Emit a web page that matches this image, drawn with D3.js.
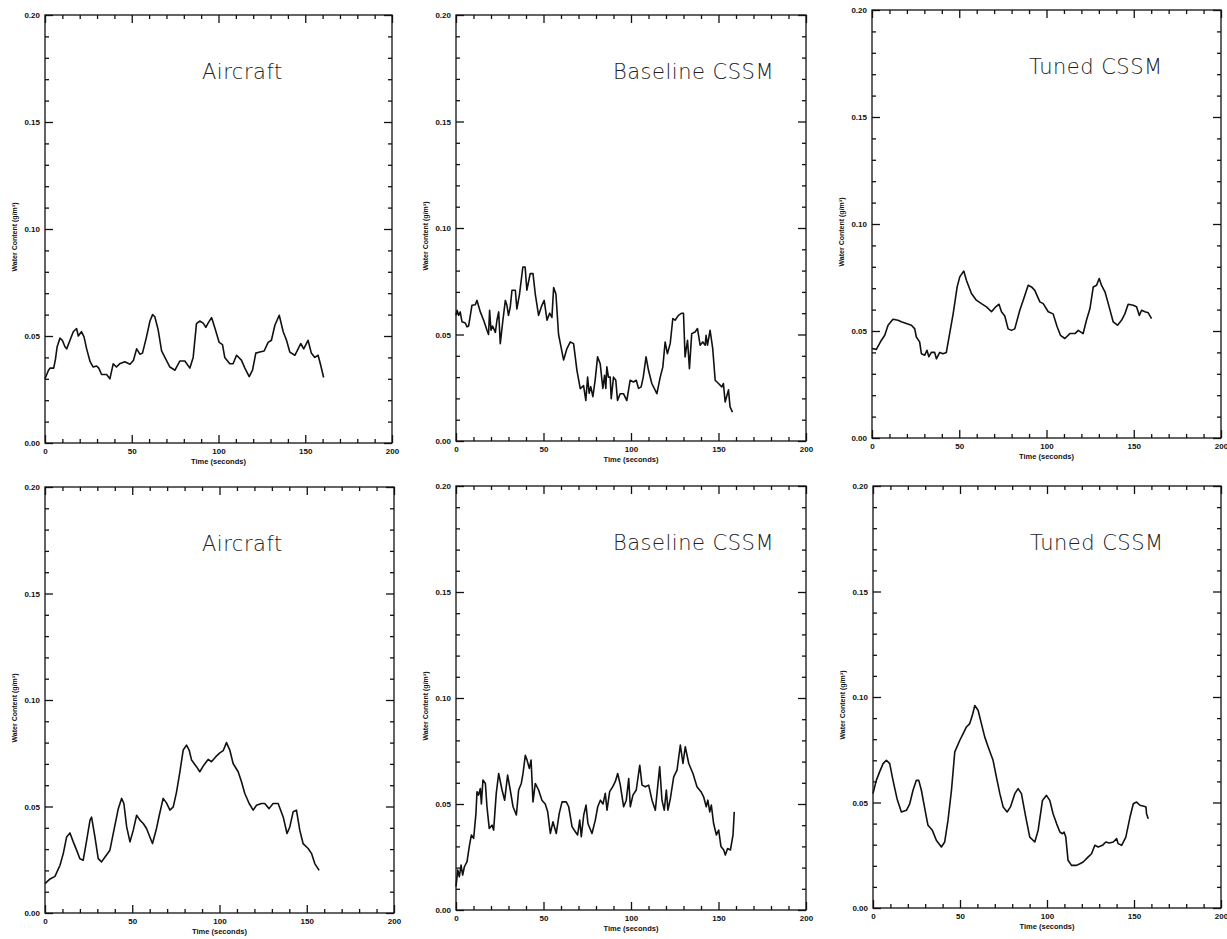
<!DOCTYPE html>
<html>
<head>
<meta charset="utf-8">
<script src="https://cdn.jsdelivr.net/npm/d3@7"></script>
<style>
body { margin: 0; background: #fff; }
.tick text { font-family: "Liberation Sans", Arial, sans-serif; font-weight: bold; font-size: 8px; fill: #111; }
.tick line { stroke: #111; stroke-width: 1.3; }
</style>
</head>
<body>
<svg></svg>
<script>

var screen = {width: 1227, height: 939};

// panel titles
var titles = ["Aircraft", "Baseline CSSM", "Tuned CSSM", "Aircraft", "Baseline CSSM", "Tuned CSSM"];

var yTicks = [0.00, 0.05, 0.10, 0.15, 0.20];
var xTicks = [0, 50, 100, 150, 200];

// [time (s), water content (g/m3)]
var aircraftTop = [
[0,0.030],[2,0.034],[3,0.035],[5,0.035],[6,0.039],[7,0.045],[8.6,0.049],[10,0.048],[11.5,0.045],[12.5,0.044],
[14.4,0.048],[16.3,0.052],[18.2,0.0535],[19.2,0.050],[21,0.052],[22.5,0.0496],[24,0.044],[26,0.038],[27.8,0.0355],
[29.7,0.036],[31,0.035],[32.6,0.032],[35.5,0.032],[37.4,0.030],[39.3,0.037],[41.2,0.0355],[43,0.037],[46,0.038],
[49,0.0368],[51,0.0387],[52.8,0.044],[54.7,0.0415],[56.2,0.042],[58.5,0.0496],[60.5,0.057],[62,0.060],[63.3,0.059],
[65.2,0.053],[67.2,0.043],[69.1,0.040],[72,0.0355],[74.9,0.034],[77.7,0.0383],[80.6,0.0383],[83.5,0.035],[85.4,0.040],
[87.3,0.0558],[89.2,0.057],[91.2,0.056],[92.7,0.054],[94,0.056],[96,0.0586],[98,0.0535],[100.4,0.047],[102.3,0.046],
[103.6,0.040],[106.5,0.037],[108.4,0.037],[110.4,0.041],[113.2,0.0387],[115.2,0.035],[117.7,0.031],[119.6,0.034],
[121.5,0.042],[123.8,0.0425],[126.3,0.043],[128.6,0.047],[130.5,0.048],[132.5,0.055],[135,0.0597],[137.3,0.052],
[139.2,0.048],[141.1,0.0425],[144,0.041],[145.9,0.044],[147.4,0.0465],[149.1,0.044],[151.6,0.048],[153.5,0.042],
[155.5,0.040],[157.4,0.041],[158.7,0.037],[160.6,0.0306]
];

var baselineTop = [
[0,0.059],[0.6,0.0614],[1.5,0.059],[2.4,0.0606],[3.4,0.056],[5.3,0.0554],[6.3,0.0536],[7.2,0.054],[8.2,0.059],
[9.1,0.0637],[11,0.064],[12,0.066],[13.9,0.0606],[15.8,0.0567],[17.7,0.052],[18.6,0.050],[19.2,0.0614],[20,0.052],
[20.9,0.054],[22.5,0.051],[23.4,0.0567],[24.4,0.0606],[25.3,0.0457],[26.8,0.0567],[28.2,0.066],[29.1,0.0637],
[30,0.059],[31,0.063],[32,0.0708],[33.9,0.0708],[34.8,0.062],[36.3,0.069],[38.2,0.0817],[39.5,0.0817],[40.5,0.0708],
[42.4,0.0786],[44,0.0786],[45.3,0.069],[47.2,0.059],[49.1,0.0637],[50.4,0.066],[52,0.0567],[53.5,0.060],[54.8,0.058],
[55.8,0.072],[57.1,0.069],[58.6,0.050],[61.5,0.038],[63.4,0.0434],[65.3,0.0465],[67.2,0.0457],[69.1,0.0332],
[71,0.0246],[72.9,0.026],[74.2,0.019],[75.2,0.030],[76.1,0.0224],[77,0.0255],[78.2,0.0208],[79.5,0.0285],
[80.9,0.0395],[82.4,0.0363],[83.9,0.0247],[84.9,0.0308],[85.6,0.0247],[86.2,0.0348],[87.1,0.030],[88.1,0.030],
[88.7,0.0199],[90,0.030],[91.3,0.0285],[92.3,0.019],[93.8,0.0222],[95.7,0.0222],[97.6,0.019],[99.5,0.0285],
[101.4,0.0277],[103,0.0285],[104.3,0.0247],[105.8,0.0254],[107,0.030],[108.6,0.0395],[110,0.0332],[111.9,0.027],
[114.8,0.0222],[116.7,0.030],[118.2,0.0348],[119.5,0.0465],[120.8,0.041],[122.4,0.0457],[123.9,0.0575],
[125.2,0.0567],[127.1,0.059],[129,0.060],[130,0.060],[130.9,0.0395],[132.3,0.0473],[133.4,0.034],[134.7,0.0504],
[136.6,0.0512],[138,0.0528],[139.5,0.045],[141,0.0465],[142.4,0.045],[142.9,0.0496],[143.7,0.045],[145.2,0.052],
[146.7,0.0434],[148.1,0.0285],[150,0.027],[151.9,0.0254],[152.8,0.027],[153.8,0.0183],[155.7,0.024],[156.6,0.016],
[158,0.0136]
];

var tunedTop = [
[0,0.0418],[2.5,0.0414],[5.4,0.0457],[7.3,0.048],[9.2,0.0527],[12,0.0555],[14.9,0.055],[16.8,0.0543],[19.7,0.0535],
[22.6,0.0527],[24.5,0.051],[25.4,0.0472],[27.3,0.0449],[28.3,0.0394],[30.2,0.0387],[31.5,0.041],[32.6,0.038],
[34,0.040],[35.9,0.040],[36.9,0.037],[38.8,0.040],[40.7,0.0394],[42.6,0.040],[44.5,0.0488],[46.5,0.058],
[48.8,0.0706],[50.3,0.0753],[52.6,0.078],[54.1,0.0737],[57,0.0675],[59.8,0.0644],[62.7,0.0628],[65.6,0.0613],
[68.5,0.059],[70.9,0.0613],[72.8,0.0625],[74.2,0.059],[76.1,0.057],[78,0.051],[79.9,0.0503],[81.8,0.051],
[84.7,0.0597],[87,0.0652],[89.5,0.0714],[91.4,0.0706],[93.3,0.069],[96.2,0.0636],[98.1,0.0628],[101,0.059],
[103.8,0.058],[106.1,0.052],[108,0.048],[110.5,0.0465],[113.4,0.0488],[116.3,0.0488],[118.2,0.0503],[121,0.0488],
[122.9,0.055],[124.9,0.0605],[126.8,0.0706],[128.7,0.0714],[130.2,0.0745],[131.5,0.0714],[133.5,0.0683],
[135.4,0.0628],[138.2,0.0543],[140.7,0.0527],[143,0.055],[144.9,0.058],[146.8,0.0625],[149.7,0.062],[151.6,0.0613],
[153.2,0.0573],[154.5,0.0597],[156.4,0.059],[158.3,0.0585],[160.2,0.0558]
];

var aircraftBottom = [
[0,0.0138],[2.9,0.016],[5.7,0.0172],[8.6,0.0224],[10.5,0.028],[12.4,0.0357],[14.3,0.0376],[16.2,0.0334],[18.1,0.0295],
[20,0.0255],[21.9,0.0248],[23.9,0.0342],[25.8,0.0436],[26.7,0.045],[28.6,0.0357],[30.5,0.0255],[32.4,0.024],
[34.4,0.0263],[37.2,0.0295],[39.1,0.0373],[42,0.049],[43.9,0.0538],[45.2,0.0514],[46.8,0.0404],[48.7,0.0334],
[50.6,0.0389],[52.5,0.0459],[54.4,0.0436],[56.3,0.042],[58.2,0.0397],[60.1,0.0357],[61.6,0.0326],[63.9,0.0397],
[65.5,0.0459],[67.7,0.0538],[69.6,0.0517],[71.6,0.0483],[73.5,0.0498],[75.4,0.0569],[77.3,0.0663],[79.2,0.0765],
[81.1,0.0788],[82.6,0.0765],[84,0.0718],[86.8,0.0687],[88.7,0.0663],[91,0.0694],[93.5,0.0721],[95.4,0.071],
[97.9,0.0734],[100.2,0.0752],[102.1,0.0762],[104,0.080],[105.9,0.0765],[107.8,0.0702],[110.7,0.0663],[112.6,0.0616],
[114.5,0.0561],[117,0.0514],[119.3,0.0483],[121.2,0.0506],[124,0.0514],[125.9,0.0514],[128.4,0.049],[130.7,0.0514],
[133.6,0.0514],[136.5,0.0451],[138.7,0.0373],[140.3,0.0404],[142.2,0.0475],[144.1,0.0483],[146,0.0389],[147.9,0.0326],
[150.8,0.0303],[152.7,0.028],[154.6,0.0232],[157.1,0.020]
];

var baselineBottom = [
[0,0.011],[1,0.0189],[1.9,0.0157],[2.9,0.0212],[3.8,0.0165],[4.8,0.0204],[6.3,0.0228],[7.6,0.030],[8.8,0.0354],
[10.1,0.0338],[11.4,0.0456],[12,0.0558],[12.9,0.0542],[13.9,0.0573],[14.5,0.050],[15.4,0.0613],[16.8,0.0597],
[17.7,0.0487],[19,0.0385],[20.6,0.040],[21.5,0.0377],[23,0.055],[24.4,0.0644],[26.3,0.0566],[27.8,0.0518],
[29.5,0.0636],[31,0.0566],[32.6,0.0487],[34.5,0.0448],[35.8,0.0566],[37.3,0.0597],[38.3,0.0644],[39.6,0.073],
[40.6,0.0707],[41.9,0.0668],[42.9,0.0707],[44,0.051],[45.3,0.0597],[47.2,0.0566],[49.1,0.0518],[51,0.050],
[52.4,0.0463],[53.9,0.0361],[55.4,0.0416],[57.3,0.0361],[59,0.0456],[60.6,0.051],[63,0.051],[64.4,0.0487],
[66.3,0.0393],[68.2,0.0369],[69.5,0.0354],[70.7,0.0424],[71.6,0.0346],[73,0.0448],[74.3,0.0495],[75.4,0.0408],
[77.7,0.0361],[79.6,0.0424],[81,0.0487],[82.5,0.0518],[84,0.050],[85.3,0.055],[86.3,0.0471],[87.8,0.0558],
[89.5,0.0581],[91,0.0605],[92.4,0.0644],[93.9,0.0589],[95.8,0.0487],[97.3,0.0518],[98.7,0.062],[99.6,0.0487],
[101.1,0.0542],[103,0.0566],[105,0.0683],[106.3,0.0589],[108.2,0.0581],[110.1,0.0589],[112,0.0518],[113.9,0.0471],
[116.4,0.0676],[117.7,0.0518],[119,0.0471],[120.2,0.0566],[121.1,0.0471],[122.5,0.0526],[124.4,0.0628],
[126.3,0.066],[128.2,0.0778],[129.7,0.0691],[131,0.077],[133,0.0691],[135.4,0.0644],[137.7,0.0581],[140,0.0558],
[141.5,0.0534],[143,0.0487],[143.9,0.0518],[145,0.0463],[145.9,0.0495],[147.2,0.0408],[148.8,0.0354],[150.1,0.0377],
[151.4,0.030],[153,0.0283],[153.9,0.0259],[155.2,0.029],[156.8,0.0283],[158.3,0.0354],[159,0.0463]
];

var tunedBottom = [
[0,0.0542],[1.9,0.0605],[3.8,0.0645],[5.8,0.0684],[7.7,0.070],[9.6,0.0684],[11.5,0.0605],[13.8,0.0518],[16.3,0.0455],
[19.2,0.0463],[21.1,0.0494],[23,0.0558],[24.9,0.0605],[26.3,0.0605],[27.8,0.0558],[30.3,0.0447],[31.6,0.0392],
[34.1,0.0368],[36.4,0.0321],[39.3,0.0289],[41.2,0.0313],[43.1,0.0415],[45.1,0.0558],[47,0.074],[49.9,0.0795],
[51.8,0.0826],[53.7,0.0858],[55.6,0.0874],[57.1,0.0913],[58.5,0.096],[60.4,0.0937],[62.3,0.0874],[64.2,0.0811],
[66.2,0.0763],[69,0.070],[70.9,0.0621],[72.9,0.0542],[74.8,0.0479],[77.1,0.0455],[79,0.0479],[81.5,0.0542],
[83.4,0.0566],[85.3,0.0542],[87.8,0.0431],[90.1,0.0336],[93,0.0313],[94.9,0.0368],[97.4,0.051],[99.7,0.0534],
[101.6,0.051],[103.5,0.0447],[105.5,0.040],[107.4,0.036],[108.9,0.0352],[109.8,0.036],[110.8,0.0336],[112.1,0.0226],
[114.1,0.0202],[117,0.0202],[118.9,0.021],[120.8,0.0218],[123.7,0.0242],[125.6,0.0257],[127.5,0.0297],[129.4,0.0289],
[131.9,0.0297],[133.8,0.0313],[135.8,0.0308],[138.1,0.0313],[140,0.0329],[140.9,0.0305],[142.9,0.0297],[145.3,0.0336],
[147.7,0.0431],[149.6,0.0494],[151.5,0.0502],[153.4,0.0487],[155.7,0.0482],[156.9,0.0479],[157.2,0.0447],[158.2,0.0423]
];

var series = [aircraftTop, baselineTop, tunedTop, aircraftBottom, baselineBottom, tunedBottom];

// where each plot frame sits on the page
var boxes = [
    {left: 45, right: 392, top: 15, bottom: 443},
    {left: 456, right: 806, top: 15, bottom: 441},
    {left: 872, right: 1221, top: 10, bottom: 438},
    {left: 45, right: 394, top: 487, bottom: 913},
    {left: 456, right: 806, top: 486, bottom: 910},
    {left: 873, right: 1221, top: 486, bottom: 908}
];

var setup = function()
{
    var svg = d3.select("body").select("svg")
    .attr("width", screen.width)
    .attr("height", screen.height);

    for (var i = 0; i < series.length; i++)
    {
        drawPanel(svg, boxes[i], titles[i], series[i]);
    }
}

var drawPanel = function(svg, box, title, data)
{
    var width = box.right - box.left;
    var height = box.bottom - box.top;

    var g = svg.append("g")
    .attr("transform", "translate(" + box.left + "," + box.top + ")");

    var xScale = d3.scaleLinear().domain([0, 200]).range([0, width]);
    var yScale = d3.scaleLinear().domain([0, 0.20]).range([height, 0]);

    var xMinor = d3.range(0, 201, 10).filter(function(d){ return d % 50 != 0; });
    var yMinor = d3.range(0, 21, 1).map(function(d){ return d / 100; })
        .filter(function(d){ return Math.round(d * 100) % 5 != 0; });

    // labelled axes, ticks pointing in
    g.append("g")
    .attr("transform", "translate(0," + height + ")")
    .call(d3.axisBottom(xScale).tickValues(xTicks).tickSizeInner(-8).tickSizeOuter(0).tickPadding(5)
        .tickFormat(d3.format("d")));

    g.append("g")
    .call(d3.axisLeft(yScale).tickValues(yTicks).tickSizeInner(-8).tickSizeOuter(0).tickPadding(5)
        .tickFormat(d3.format(".2f")));

    // mirrored axes on top and right
    g.append("g")
    .call(d3.axisTop(xScale).tickValues(xTicks).tickSizeInner(-8).tickSizeOuter(0).tickFormat(""));

    g.append("g")
    .attr("transform", "translate(" + width + ",0)")
    .call(d3.axisRight(yScale).tickValues(yTicks).tickSizeInner(-8).tickSizeOuter(0).tickFormat(""));

    // minor ticks
    g.append("g")
    .attr("transform", "translate(0," + height + ")")
    .call(d3.axisBottom(xScale).tickValues(xMinor).tickSizeInner(-4).tickSizeOuter(0).tickFormat(""));
    g.append("g")
    .call(d3.axisTop(xScale).tickValues(xMinor).tickSizeInner(-4).tickSizeOuter(0).tickFormat(""));
    g.append("g")
    .call(d3.axisLeft(yScale).tickValues(yMinor).tickSizeInner(-4).tickSizeOuter(0).tickFormat(""));
    g.append("g")
    .attr("transform", "translate(" + width + ",0)")
    .call(d3.axisRight(yScale).tickValues(yMinor).tickSizeInner(-4).tickSizeOuter(0).tickFormat(""));

    g.selectAll(".domain").remove();

    g.append("rect")
    .attr("width", width)
    .attr("height", height)
    .attr("fill", "none")
    .attr("stroke", "#111")
    .attr("stroke-width", 1.3);

    var line = d3.line()
    .x(function(d){ return xScale(d[0]); })
    .y(function(d){ return yScale(d[1]); });

    g.append("path")
    .datum(data)
    .attr("d", line)
    .attr("fill", "none")
    .attr("stroke", "#111")
    .attr("stroke-width", 1.6)
    .attr("stroke-linejoin", "round");

    g.append("text")
    .attr("x", 157)
    .attr("y", 64)
    .style("font-family", "'DejaVu Sans', sans-serif")
    .style("font-weight", "200")
    .style("font-size", "21px")
    .style("letter-spacing", "0.5px")
    .style("fill", "#222")
    .text(title);

    g.append("text")
    .attr("x", width / 2)
    .attr("y", height + 21)
    .attr("text-anchor", "middle")
    .style("font-family", "'Liberation Sans', Arial, sans-serif")
    .style("font-weight", "bold")
    .style("font-size", "7.5px")
    .style("fill", "#111")
    .text("Time (seconds)");

    g.append("text")
    .attr("transform", "translate(-28," + (height / 2 + 8) + ") rotate(-90)")
    .attr("text-anchor", "middle")
    .style("font-family", "'Liberation Sans', Arial, sans-serif")
    .style("font-weight", "bold")
    .style("font-size", "7px")
    .style("fill", "#111")
    .text("Water Content (g/m³)");
}

setup();
</script>
</body>
</html>
